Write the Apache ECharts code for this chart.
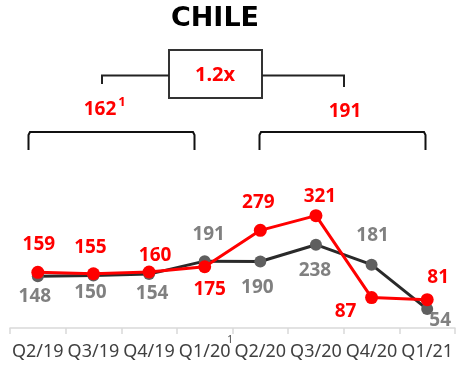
<!DOCTYPE html>
<html>
<head>
<meta charset="utf-8">
<script src="https://cdn.jsdelivr.net/npm/echarts@6/dist/echarts.min.js"></script>
<style>html,body{margin:0;padding:0;background:#fff;}#c{width:462px;height:368px;}</style>
</head>
<body>
<div id="c"></div>
<script>
// ---- data ----
const categories = ['Q2/19','Q3/19','Q4/19','Q1/20','Q2/20','Q3/20','Q4/20','Q1/21'];
const grayValues = [148, 150, 154, 191, 190, 238, 181, 54];
const redValues  = [159, 155, 160, 175, 279, 321, 87, 81];
const title = 'CHILE';
const ratioText = '1.2x';
const periodAverages = ['162', '191'];

// ---- label placement (style only) ----
const grayLabelOffsets = [[-3,20],[-3,17],[3,19],[4,-27],[-3,26],[-1,26],[1,-29],[13,11]];
const redLabelOffsets  = [[1,-28],[-3,-26],[6,-16],[5,23],[-2,-28],[4,-19],[-26,14],[11,-22]];

const FONT = '"Noto Sans", sans-serif';
function mk(values, offsets) {
  return values.map((v, i) => ({
    value: v,
    label: { offset: offsets[i] }
  }));
}

const chart = echarts.init(document.getElementById('c'), null, { renderer: 'canvas' });
const option = {
  animation: false,
  backgroundColor: '#ffffff',
  grid: { left: 10, right: 7, top: 188, bottom: 40 },
  xAxis: {
    type: 'category',
    data: categories,
    axisLine: { show: true, lineStyle: { color: '#d9d9d9', width: 1.5 } },
    axisTick: { show: true, length: 6, lineStyle: { color: '#d9d9d9', width: 1.5 } },
    axisLabel: { interval: 0, fontSize: 18, color: '#404040', fontFamily: FONT, margin: 15 }
  },
  yAxis: { type: 'value', min: 0, max: 400, show: false },
  series: [
    {
      type: 'line',
      data: mk(grayValues, grayLabelOffsets),
      symbol: 'circle', symbolSize: 12,
      lineStyle: { color: '#2a2a2a', width: 3 },
      itemStyle: { color: '#5f5f5f' },
      label: { show: true, position: 'inside', fontSize: 19, fontWeight: 'bold', color: '#808080', fontFamily: FONT },
      z: 2
    },
    {
      type: 'line',
      data: mk(redValues, redLabelOffsets),
      symbol: 'circle', symbolSize: 13,
      lineStyle: { color: '#ff0000', width: 3 },
      itemStyle: { color: '#ff0000' },
      label: { show: true, position: 'inside', fontSize: 19, fontWeight: 'bold', color: '#ff0000', fontFamily: FONT },
      z: 3
    }
  ],
  graphic: [
    { type: 'text', style: { text: title, x: 215, y: 19, align: 'center', verticalAlign: 'middle', fontSize: 27, fontWeight: 'bold', fill: '#000', fontFamily: '"DejaVu Sans", sans-serif' } },
    { type: 'rect', shape: { x: 169, y: 50, width: 93, height: 48 }, style: { fill: '#fff', stroke: '#333', lineWidth: 2 } },
    { type: 'text', style: { text: ratioText, x: 215, y: 75, align: 'center', verticalAlign: 'middle', fontSize: 20, fontWeight: 'bold', fill: '#ff0000', fontFamily: FONT } },
    { type: 'polyline', shape: { points: [[102,84],[102,75.5],[169,75.5]] }, style: { stroke: '#222', lineWidth: 2, fill: null } },
    { type: 'polyline', shape: { points: [[262,75.5],[344,75.5],[344,87]] }, style: { stroke: '#222', lineWidth: 2, fill: null } },
    { type: 'text', style: { text: periodAverages[0], x: 100, y: 110, align: 'center', verticalAlign: 'middle', fontSize: 19, fontWeight: 'bold', fill: '#ff0000', fontFamily: FONT } },
    { type: 'text', style: { text: '1', x: 122, y: 102, align: 'center', verticalAlign: 'middle', fontSize: 13, fontWeight: 'bold', fill: '#ff0000', fontFamily: FONT } },
    { type: 'text', style: { text: periodAverages[1], x: 345, y: 112, align: 'center', verticalAlign: 'middle', fontSize: 19, fontWeight: 'bold', fill: '#ff0000', fontFamily: FONT } },
    { type: 'polyline', shape: { points: [[28.5,150],[28.5,135],[30,132],[33,132],[190,132],[193,132],[194.5,135],[194.5,150]] }, style: { stroke: '#111', lineWidth: 2, fill: null } },
    { type: 'polyline', shape: { points: [[259.5,150],[259.5,135],[261,132],[264,132],[421,132],[424,132],[425.5,135],[425.5,150]] }, style: { stroke: '#111', lineWidth: 2, fill: null } },
    { type: 'text', style: { text: '1', x: 230, y: 340, align: 'center', verticalAlign: 'middle', fontSize: 10, fill: '#404040', fontFamily: FONT } }
  ]
};
chart.setOption(option);
</script>
</body>
</html>
